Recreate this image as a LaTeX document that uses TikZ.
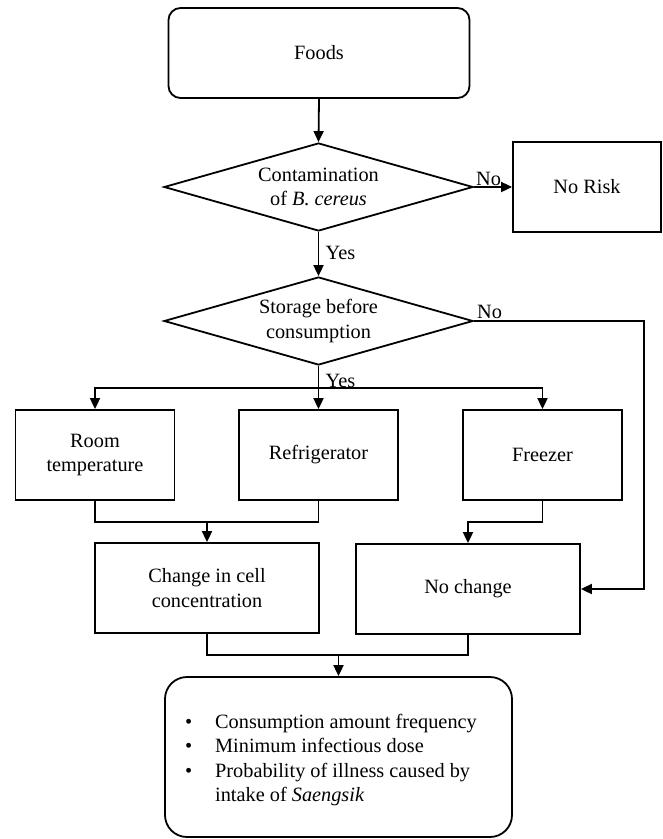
\documentclass[tikz,border=0pt]{standalone}
\usepackage{fontspec}
\setmainfont{Liberation Serif}
\usetikzlibrary{shapes.geometric,arrows.meta}
\begin{document}
\begin{tikzpicture}[x=1bp,y=-1bp,
  every node/.style={font=\fontsize{20.3bp}{24.5bp}\selectfont},
  ln/.style={line width=1.8bp,draw=black},
  arr/.style={ln,-{Triangle[length=11bp,width=10bp]}},
  boxx/.style={ln,rectangle,inner sep=0,align=center},
  rbox/.style={ln,rectangle,rounded corners=12bp,inner sep=0,align=center},
  dia/.style={ln,diamond,aspect=3.5,inner sep=0,align=center,minimum width=309bp,minimum height=88bp},
  lbl/.style={inner sep=0}
]
\useasboundingbox (0,0) rectangle (663,839);
\node[rbox,minimum width=301bp,minimum height=90bp] (foods) at (319,53) {Foods};
\node[dia] (c1) at (318.5,187) {Contamination\\of \textit{B. cereus}};
\node[boxx,minimum width=148bp,minimum height=90bp] (norisk) at (587,187) {No Risk};
\node[dia] (c2) at (318.5,321) {Storage before\\consumption};
\node[boxx,minimum width=159bp,minimum height=90bp] (room) at (95,455) {Room\\temperature};
\node[boxx,minimum width=159bp,minimum height=90bp] (fridge) at (318.5,455) {Refrigerator};
\node[boxx,minimum width=159bp,minimum height=90bp] (freezer) at (542.5,455) {Freezer};
\node[boxx,minimum width=224bp,minimum height=90bp] (change) at (207,588) {Change in cell\\concentration};
\node[boxx,minimum width=224bp,minimum height=90bp] (nochange) at (468,589) {No change};
\node[rbox,rounded corners=22bp,minimum width=347bp,minimum height=160bp] (result) at (338.5,757) {};
\node[lbl,anchor=west,align=left] (resulttext) at (185,760)
  {\makebox[30bp][l]{\textbullet}Consumption amount frequency\\
   \makebox[30bp][l]{\textbullet}Minimum infectious dose\\
   \makebox[30bp][l]{\textbullet}Probability of illness caused by\\
   \hspace*{30bp}intake of \textit{Saengsik}};

\coordinate (br) at (318.5,388);
\coordinate (m1) at (207,522);
\coordinate (m2) at (338.5,655);
\coordinate (rx) at (644,321);

\draw[arr] (foods.south) -- (c1.north);
\draw[arr] (c1.east) -- (norisk.west);
\node[lbl,anchor=base west] (no1) at ([xshift=2bp,yshift=2bp]c1.east) {No};
\draw[arr] (c1.south) -- (c2.north);
\node[lbl,anchor=west] (yes1) at ([xshift=7bp,yshift=-21bp]c1.south) {Yes};
\draw[arr] (c2.east) -- (rx) |- (nochange.east);
\node[lbl,anchor=base west] (no2) at ([xshift=3bp,yshift=3bp]c2.east) {No};
\draw[ln] (c2.south) -- (br);
\node[lbl,anchor=west] (yes2) at ([xshift=7bp,yshift=-15bp]c2.south) {Yes};
\draw[arr] (br) -- (fridge.north);
\draw[arr] (br) -| (room.north);
\draw[arr] (br) -| (freezer.north);
\draw[ln] (room.south) |- (fridge.south |- m1) -- (fridge.south);
\draw[arr] (m1) -- (change.north);
\draw[arr] (freezer.south) |- (nochange.north |- m1) -- (nochange.north);
\draw[ln] (change.south) |- (nochange.south |- m2) -- (nochange.south);
\draw[arr] (m2) -- (result.north);
\end{tikzpicture}
\end{document}
